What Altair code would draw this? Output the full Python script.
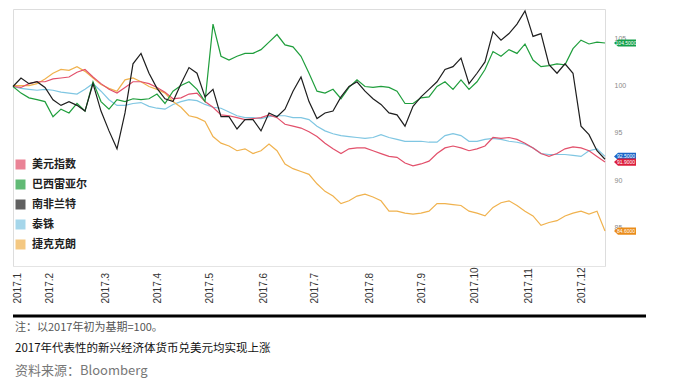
import json
import altair as alt
import pandas as pd

# ---------------- data (index, start of 2017 = 100) ----------------
t_index = list(range(75))

series_names = ["美元指数", "巴西雷亚尔", "南非兰特", "泰铢", "捷克克朗"]

usd = [99.9, 99.8, 100.2, 100.4, 100.4, 100.7, 100.8, 100.9, 101.4, 101.7,
       100.9, 100.2, 99.6, 99.2, 99.8, 100.4, 100.4, 100.2, 99.8, 99.3,
       98.6, 98.7, 99.1, 99.2, 98.3, 97.7, 96.9, 96.8, 96.6, 96.4,
       96.5, 96.6, 96.9, 96.6, 95.9, 95.7, 95.5, 95.1, 94.6, 93.9,
       93.3, 92.8, 93.3, 93.4, 93.4, 93.1, 92.8, 92.5, 92.4, 91.8,
       91.5, 91.7, 92.0, 92.8, 93.4, 93.6, 93.4, 93.1, 93.3, 93.6,
       94.5, 94.4, 94.5, 94.3, 93.9, 93.4, 92.8, 92.5, 92.8, 93.3,
       93.5, 93.4, 93.1, 92.5, 91.9]

brl = [99.9, 99.2, 98.7, 98.5, 98.3, 96.7, 97.5, 97.1, 98.1, 97.3,
       100.4, 98.3, 97.5, 98.5, 98.3, 98.6, 98.5, 98.6, 99.1, 98.1,
       99.4, 100.0, 100.4, 99.6, 98.3, 106.5, 103.1, 102.7, 103.1, 103.4,
       103.4, 103.8, 104.6, 105.4, 104.3, 104.1, 103.1, 101.3, 99.4, 99.2,
       99.6, 98.6, 99.8, 100.6, 99.9, 99.8, 99.9, 99.8, 99.4, 98.1,
       98.1, 98.7, 98.8, 99.9, 100.4, 99.6, 100.6, 99.6, 100.4, 101.7,
       103.6, 103.1, 103.8, 103.4, 104.4, 102.7, 102.0, 102.1, 102.3, 102.2,
       103.9, 104.8, 104.4, 104.6, 104.5]

zar = [99.9, 100.8, 100.2, 100.4, 99.8, 98.5, 97.9, 98.3, 97.9, 97.3,
       100.2, 97.3, 95.2, 93.3, 97.1, 102.3, 103.4, 101.3, 99.7, 98.6,
       98.3, 100.2, 101.9, 101.3, 98.8, 99.6, 96.7, 96.7, 95.4, 96.4,
       96.4, 95.2, 97.1, 96.7, 97.5, 99.4, 100.9, 98.3, 96.5, 97.1,
       97.3, 98.8, 99.9, 100.4, 99.4, 98.6, 98.0, 97.1, 96.9, 95.7,
       97.8, 98.8, 99.6, 100.4, 101.7, 102.0, 102.9, 100.2, 101.3, 102.5,
       105.7, 104.8, 105.5, 106.5, 107.9, 105.2, 105.5, 102.2, 101.3, 102.3,
       101.3, 95.7, 94.8, 93.1, 92.2]

thb = [99.9, 99.7, 99.6, 99.5, 99.6, 99.5, 99.3, 99.2, 99.1, 99.6,
       100.2, 99.4, 98.5, 97.9, 97.9, 98.1, 98.2, 97.8, 97.6, 97.5,
       98.0, 98.3, 98.5, 98.4, 98.0, 97.7, 97.6, 97.2, 96.8, 96.6,
       96.6, 96.5, 96.7, 96.8, 96.8, 96.6, 96.6, 96.4, 95.7, 95.2,
       94.9, 94.7, 94.6, 94.5, 94.4, 94.5, 94.8, 94.5, 94.3, 94.1,
       94.1, 94.1, 94.0, 94.0, 94.7, 94.9, 94.7, 94.1, 94.1, 94.3,
       94.4, 94.3, 94.1, 94.0, 93.8, 93.4, 92.8, 92.7, 92.7, 92.7,
       92.6, 92.5, 93.1, 93.3, 92.5]

czk = [100.0, 100.0, 100.0, 100.2, 100.7, 101.3, 101.7, 101.6, 102.0, 101.5,
       100.8, 100.1, 99.7, 99.4, 100.6, 100.8, 100.4, 99.9, 99.6, 99.2,
       98.3, 97.7, 96.8, 96.6, 96.2, 94.6, 93.9, 93.6, 93.1, 93.3,
       92.8, 93.1, 93.8, 93.1, 91.7, 91.2, 90.9, 90.6, 89.6, 88.8,
       88.3, 87.5, 87.8, 88.3, 88.5, 88.2, 87.8, 86.7, 86.7, 86.5,
       86.4, 86.5, 86.7, 87.5, 87.5, 87.4, 87.3, 86.7, 86.5, 86.2,
       87.1, 87.6, 87.8, 87.3, 86.7, 86.2, 85.2, 85.5, 85.7, 86.2,
       86.5, 86.7, 86.4, 86.7, 84.6]

tick_pos = [0.5, 4.6, 11.5, 18, 24.6, 31.25, 37.7, 44.5, 51.0, 57.7, 64.4, 71.0]
tick_labels = ["2017.1", "2017.2", "2017.3", "2017.4", "2017.5", "2017.6",
               "2017.7", "2017.8", "2017.9", "2017.10", "2017.11", "2017.12"]
y_ticks = [85, 90, 95, 100, 105]

line_colors = ["#e2506b", "#1f9e3c", "#1e1e1e", "#7fc6e2", "#f0b24e"]
tag_series = ["巴西雷亚尔", "泰铢", "美元指数", "捷克克朗"]
tag_colors = ["#14a04a", "#1a66c8", "#dc1e3c", "#ea8c1a"]

note_text = "注：以2017年初为基期=100。"
caption_text = "2017年代表性的新兴经济体货币兑美元均实现上涨"
source_text = "资料来源：Bloomberg"

# ---------------- tables ----------------
values_by_name = {"美元指数": usd, "巴西雷亚尔": brl, "南非兰特": zar,
                  "泰铢": thb, "捷克克朗": czk}
draw_order = ["泰铢", "捷克克朗", "美元指数", "巴西雷亚尔", "南非兰特"]
rows = []
for name in draw_order:
    for t, v in zip(t_index, values_by_name[name]):
        rows.append({"t": t, "v": v, "name": name})
df = pd.DataFrame(rows)

tag_df = pd.DataFrame({
    "t": [t_index[-1]] * len(tag_series),
    "v": [values_by_name[n][-1] for n in tag_series],
    "tagcolor": tag_colors,
})

one = pd.DataFrame({"a": [0]})

pos_js = json.dumps(tick_pos)
lab_js = json.dumps(tick_labels, ensure_ascii=False)
label_expr = f"indexof({pos_js}, datum.value) >= 0 ? {lab_js}[indexof({pos_js}, datum.value)] : ''"

x_enc = alt.X("t:Q",
              scale=alt.Scale(domain=[0, 74], nice=False, zero=False),
              axis=alt.Axis(values=tick_pos, labelExpr=label_expr, labelAngle=270,
                            labelAlign="left", labelBaseline="middle",
                            labelPadding=37, ticks=False, tickSize=0,
                            domainColor="#e4e4e4", grid=False, title=None,
                            labelFont="Liberation Sans", labelFontSize=10,
                            labelColor="#333333", labelOverlap=False))
y_enc = alt.Y("v:Q",
              scale=alt.Scale(domain=[80.9, 108.1], nice=False, zero=False),
              axis=alt.Axis(orient="right", values=y_ticks, domain=False, ticks=False,
                            grid=False, labelFontSize=7, labelColor="#8a8a8a",
                            labelPadding=9, title=None, labelFont="Liberation Sans"))

lines = alt.Chart(df).mark_line(strokeWidth=1.2).encode(
    x=x_enc,
    y=y_enc,
    color=alt.Color("name:N",
                    scale=alt.Scale(domain=series_names, range=line_colors),
                    legend=alt.Legend(orient="none", legendX=2, legendY=150, title=None,
                                      symbolType="square", symbolSize=25,
                                      symbolStrokeWidth=5, symbolOpacity=0.7,
                                      labelFont="Noto Sans CJK SC", labelFontSize=11,
                                      labelFontWeight="bold", labelColor="#222222",
                                      rowPadding=-5, labelOffset=6)),
)

tag_path = "M2.25,0 L3.25,-0.9 L7.75,-0.9 L7.75,0.9 L3.25,0.9 Z"
tags = alt.Chart(tag_df).mark_point(shape=tag_path, filled=True, size=64,
                                    opacity=1, strokeWidth=0).encode(
    x="t:Q", y="v:Q", fill=alt.Fill("tagcolor:N", scale=None, legend=None))
tag_text = alt.Chart(tag_df).mark_text(dx=21, fontSize=5, color="white",
                                       font="Liberation Sans").encode(
    x="t:Q", y="v:Q", text=alt.Text("v:Q", format=".4f"))

rule = alt.Chart(one).mark_rule(strokeWidth=3, color="#000000").encode(
    x=alt.value(0), x2=alt.value(633), y=alt.value(307))
note = alt.Chart(one).mark_text(align="left", baseline="middle", fontSize=11,
                                color="#555555", font="Noto Sans CJK SC").encode(
    x=alt.value(2), y=alt.value(319), text=alt.value(note_text))
caption = alt.Chart(one).mark_text(align="left", baseline="middle", fontSize=11.5,
                                   color="#111111", font="Noto Sans CJK SC").encode(
    x=alt.value(2), y=alt.value(340), text=alt.value(caption_text))
source = alt.Chart(one).mark_text(align="left", baseline="middle", fontSize=13,
                                  color="#777777", font="Noto Sans CJK SC").encode(
    x=alt.value(2), y=alt.value(362), text=alt.value(source_text))

chart = alt.layer(lines, tags, tag_text, rule, note, caption, source).properties(
    width=592, height=257,
    padding={"left": 2, "top": 0, "right": 5, "bottom": 5},
).configure_view(stroke=None).configure(background="white")

chart.save("out.html", embed_options={"renderer": "svg", "actions": False})
